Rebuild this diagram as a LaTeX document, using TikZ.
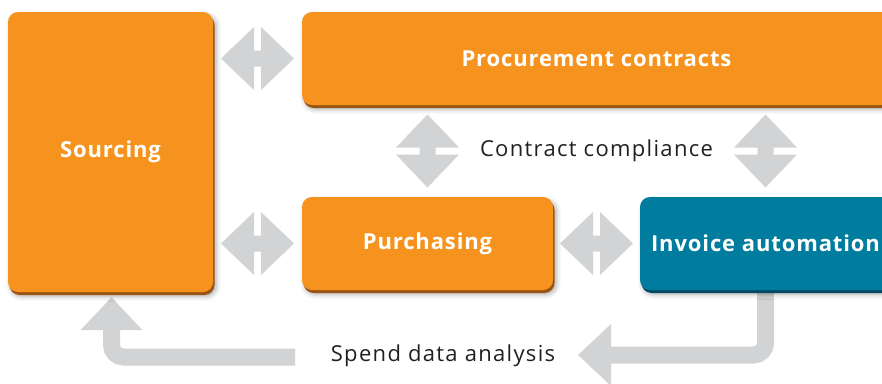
\documentclass[tikz,border=0pt]{standalone}
\usepackage{fontspec}
\newfontfamily\boxfont{Open Sans}[LetterSpace=4]
\newfontfamily\remarkfont{Open Sans}[LetterSpace=6]
\usetikzlibrary{calc,arrows.meta,shadows,shadows.blur,backgrounds}

\definecolor{boxorange}{HTML}{F6931F}
\definecolor{rimorange}{HTML}{9A5512}
\definecolor{boxblue}{HTML}{007C9F}
\definecolor{rimblue}{HTML}{004A63}
\definecolor{arrowgray}{HTML}{D1D3D4}
\definecolor{labelgray}{HTML}{231F20}

\tikzset{
    box/.style={
        rounded corners=10pt, inner sep=0pt, minimum height=93pt,
        text=white, font=\boxfont\bfseries\fontsize{22}{26}\selectfont,
        blur shadow={shadow xshift=3pt, shadow yshift=-4pt,
            shadow blur radius=5pt, shadow opacity=35}
    },
    orangebox/.style={box, fill=boxorange,
        general shadow={fill=rimorange, shadow xshift=1.5pt, shadow yshift=-3pt}},
    bluebox/.style={box, fill=boxblue,
        general shadow={fill=rimblue, shadow xshift=1.5pt, shadow yshift=-3pt}},
    remark/.style={text=labelgray, font=\remarkfont\fontsize{22}{26}\selectfont},
    backloop/.style={draw=arrowgray, line width=17pt, rounded corners=12pt,
        -{Triangle[length=33pt,width=60pt]}},
    twoway/.pic={
        \fill[arrowgray] (-36.5,0) -- (-3.5,-31.5) -- (-3.5,-8) -- (3.5,-8)
            -- (3.5,-31.5) -- (36.5,0) -- (3.5,31.5) -- (3.5,8) -- (-3.5,8)
            -- (-3.5,31.5) -- cycle;
    }
}

\begin{document}
\begin{tikzpicture}[x=1pt,y=-1pt]
    \useasboundingbox (0,0) rectangle (882,383);

    % the four process boxes
    \node[orangebox, minimum width=205pt, minimum height=280pt] (sourcing) at (110.5,152) {Sourcing};
    \node[orangebox, minimum width=589pt] (procurement) at (596.5,58.5) {Procurement contracts};
    \node[orangebox, minimum width=251pt] (purchasing) at (427.5,243.5) {Purchasing};
    \node[bluebox, minimum width=251pt] (invoice) at (765.5,243.5) {Invoice automation};

    % two-way links
    \pic at ($(sourcing.east |- procurement.west)!0.5!(procurement.west)$) {twoway};
    \pic at ($(sourcing.east |- purchasing.west)!0.5!(purchasing.west)$) {twoway};
    \pic at ($(purchasing.east)!0.5!(invoice.west)$) {twoway};
    \pic[rotate=90] at ($(procurement.south -| purchasing.north)!0.5!(purchasing.north)$) {twoway};
    \pic[rotate=90] at ($(procurement.south -| invoice.north)!0.5!(invoice.north)$) {twoway};

    \node[remark] (compliance) at ($(procurement.south)!0.5!(procurement.south |- purchasing.north)$) {Contract compliance};

    % feedback loop
    \node[remark] (spend) at (443,356) {Spend data analysis};
    \coordinate (loopend) at (578,355);
    \coordinate (loopstart) at (295,357);
    \begin{scope}[on background layer]
        \draw[backloop] (invoice.south) |- (loopend);
        \draw[backloop] (loopstart) -| ([shift={(1,5)}]sourcing.south);
    \end{scope}
\end{tikzpicture}
\end{document}
